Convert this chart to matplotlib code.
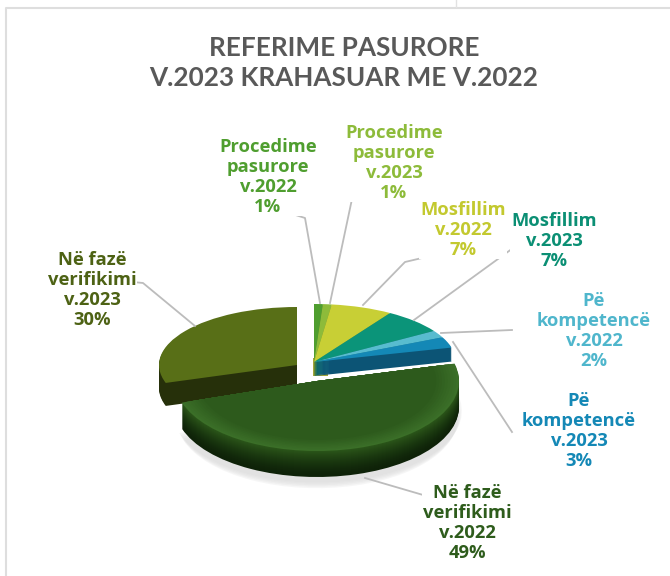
import matplotlib
matplotlib.use("Agg")
import matplotlib.pyplot as plt
from matplotlib.colors import to_rgb

W, H = 670, 576

values = [1, 1, 7, 7, 2, 3, 49, 30]
top_colors = ["#4f9e2f", "#8dbb3a", "#c8cf35", "#0b9479", "#58bccf", "#1488b6", "#2e5c1c", "#586f17"]
side_colors = ["#3d7a24", "#6c8f2c", "#9aa028", "#066b58", "#2f8b9c", "#0c5475", "#16310c", "#26300a"]

labels = [
    "Procedime\npasurore\nv.2022\n1%",
    "Procedime\npasurore\nv.2023\n1%",
    "Mosfillim\nv.2022\n7%",
    "Mosfillim\nv.2023\n7%",
    "Pë\nkompetencë\nv.2022\n2%",
    "Pë\nkompetencë\nv.2023\n3%",
    "Në fazë\nverifikimi\nv.2022\n49%",
    "Në fazë\nverifikimi\nv.2023\n30%",
]
label_colors = ["#4f9e2f", "#8dbb3a", "#c3c92f", "#0b8f74", "#4fb6cc", "#1488b6", "#2e5c1c", "#4d6214"]
label_pos = [(268, 177), (394, 163), (463, 230), (554, 241), (594, 331), (579, 431), (467, 523), (92, 290)]

leaders = [
    [(283, 211), (305, 218), (320, 303)],
    [(378, 197), (352, 199), (330, 303)],
    [(422, 258), (405, 262), (363, 305)],
    [(520, 243), (414, 320)],
    [(512, 330), (441, 333)],
    [(453, 342), (512, 432)],
    [(365, 478), (430, 497)],
    [(123, 281), (143, 283), (195, 326)],
]

title = "REFERIME PASURORE\nV.2023 KRAHASUAR ME V.2022"


def blend(c1, c2, t):
    a, b = to_rgb(c1), to_rgb(c2)
    return tuple(a[i] + (b[i] - a[i]) * t for i in range(3))


def pie_layer(cx, cy, rx, ry):
    # axes over the whole figure where the unit circle lands on the wanted ellipse
    ax = fig.add_axes([0, 0, 1, 1], facecolor="none")
    ax.lims = (-cx / rx, (W - cx) / rx), (-(H - cy) / ry, cy / ry)
    return ax


def draw(ax, keep, colors, dy=0.0, radius=1.0, alpha=None):
    wedges, _ = ax.pie(values, colors=colors, startangle=90, counterclock=False,
                       center=(0, dy), radius=radius, wedgeprops={"linewidth": 0, "alpha": alpha})
    for i, w in enumerate(wedges):
        w.set_visible(i in keep)
    ax.set_aspect("auto")
    ax.set_xlim(ax.lims[0])
    ax.set_ylim(ax.lims[1])


fig = plt.figure(figsize=(W / 100, H / 100), dpi=100)
fig.patch.set_facecolor("white")

bg = fig.add_axes([0, 0, 1, 1])
bg.set_xlim(0, W)
bg.set_ylim(H, 0)
bg.axis("off")
bg.plot([6, 6, W], [H, 8, 8], color="#dedede", lw=1.5)
bg.plot([456, 456], [0, 7], color="#e2e2e2", lw=1)
bg.fill_between([313, 328], 358, 376, color="#a3a53a", lw=0)

# small slices at the back
small = [0, 1, 2, 3, 4, 5]
back = pie_layer(314, 362, 142, 58)
for k in range(14, 0, -1):
    draw(back, small, side_colors, dy=-k / 58)
draw(back, small, top_colors)

# 30% slice, pulled to the left
left = pie_layer(297, 365, 138, 58)
for k in range(23, 0, -1):
    draw(left, [7], side_colors, dy=-k / 58)
draw(left, [7], top_colors)

# 49% slice in front, with shadow, dark side and lighter rim
front = pie_layer(317, 381, 142, 70)
for k in range(5):
    draw(front, [6], ["#d8d8d8"] * 8, dy=-(30 + k * 2) / 70, radius=1.02 - k * 0.008, alpha=0.22)
for k in range(26, 0, -1):
    c = blend("#0e2208", "#2a5419", ((26 - k) / 25) ** 1.5)
    draw(front, [6], [c] * 8, dy=-k / 70)
for k in range(9):
    t = k / 8
    c = blend("#3b6f28", "#2d5a1c", t)
    draw(front, [6], [c] * 8, radius=1.0 - 0.02 * k)

# labels and leader lines on top
over = fig.add_axes([0, 0, 1, 1], facecolor="none")
over.set_xlim(0, W)
over.set_ylim(H, 0)
over.axis("off")
for pts in leaders:
    over.plot([p[0] for p in pts], [p[1] for p in pts], color="#bcbcbc", lw=1.3)
for txt, pos, col in zip(labels, label_pos, label_colors):
    over.text(pos[0], pos[1], txt, color=col, ha="center", va="center", family="Open Sans",
              weight="bold", fontsize=13.2, linespacing=1.12,
              bbox={"facecolor": "white", "edgecolor": "none", "pad": 0.5})
over.text(344, 63, title, color="#595959", ha="center", va="center", family="Lato",
          weight="bold", fontsize=18.8, linespacing=1.3)

fig.savefig("out.png", dpi=100)
